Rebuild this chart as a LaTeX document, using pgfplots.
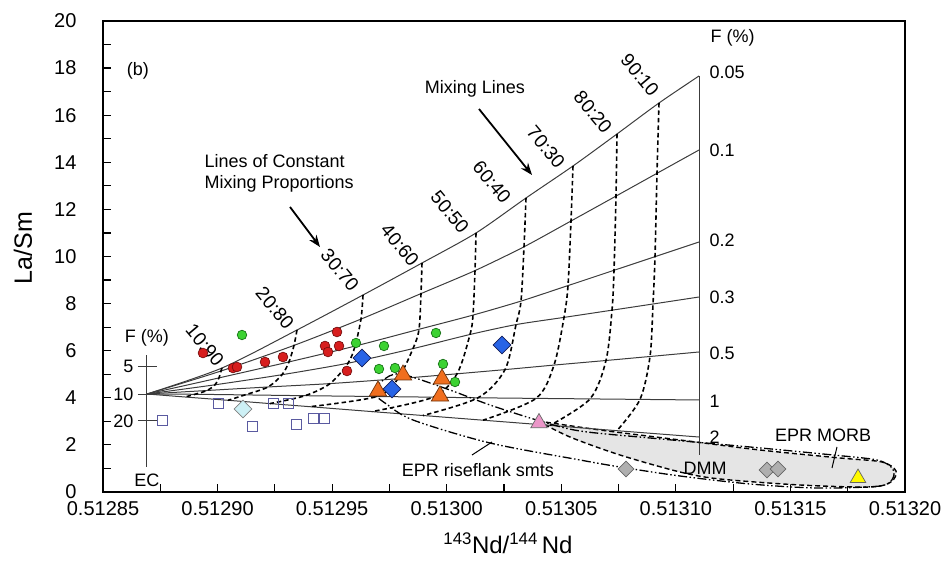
\documentclass[border=0pt]{standalone}
\usepackage{pgfplots}
\pgfplotsset{compat=1.18}
\usepackage{fontspec}
\setmainfont{Liberation Sans}
\usetikzlibrary{arrows.meta}
\definecolor{redpt}{RGB}{215,30,30}
\definecolor{reddk}{RGB}{110,10,10}
\definecolor{greenpt}{RGB}{60,210,50}
\definecolor{greendk}{RGB}{10,100,10}
\definecolor{bluept}{RGB}{40,100,230}
\definecolor{bluedk}{RGB}{20,30,90}
\definecolor{orangept}{RGB}{240,110,30}
\definecolor{orangedk}{RGB}{110,50,10}
\definecolor{pinkpt}{RGB}{235,150,200}
\definecolor{cyanpt}{RGB}{205,240,245}
\definecolor{sqedge}{RGB}{90,90,160}
\definecolor{graypt}{RGB}{175,175,175}
\definecolor{yellowpt}{RGB}{255,250,0}
\definecolor{linegray}{RGB}{60,60,60}
\newcommand{\ann}{\fontsize{18}{21}\selectfont}
\newcommand{\rat}{\fontsize{19}{22}\selectfont}
\begin{document}
\begin{tikzpicture}
\path[use as bounding box] (-103pt,-69pt) rectangle (842pt,492pt);
\begin{axis}[
 at={(0pt,0pt)}, anchor=south west,
 width=802pt, height=471pt, scale only axis,
 xmin=85, xmax=120, ymin=0, ymax=20,
 xtick={85,90,...,120},
 xticklabels={0.51285,0.51290,0.51295,0.51300,0.51305,0.51310,0.51315,0.51320},
 ytick={0,2,...,20},
 minor x tick num=1, minor y tick num=1,
 xtick pos=bottom, ytick pos=left,
 tick align=inside,
 major tick length=8pt, minor tick length=8pt,
 tick style={black, line width=1.2pt},
 axis line style={line width=1.6pt},
 /pgf/number format/assume math mode=true,
 ticklabel style={font=\fontsize{20}{24}\selectfont},
 xticklabel style={yshift=-6pt},
 yticklabel style={xshift=-23pt},
 xlabel={\textsuperscript{143}Nd/\textsuperscript{144}\,Nd},
 ylabel={La/Sm},
 xlabel style={at={(axis description cs:0.505,0)}, anchor=center, yshift=-51pt, font=\fontsize{24}{28}\selectfont},
 ylabel style={at={(axis description cs:-0.0998,0.518)}, anchor=center, font=\fontsize{25}{30}\selectfont},
 clip=false,
]
% EPR MORB envelope (filled)
\addplot[fill=black!10, draw=black, line width=1.4pt, dash pattern=on 5pt off 3pt, smooth, tension=0.5] coordinates {
(103.984,3.015)(106.690,2.633)(110.181,2.208)(113.672,1.783)(117.163,1.444)(118.996,1.274)(119.607,0.892)(119.389,0.425)(118.473,0.212)(115.418,0.297)(111.926,0.552)(110.181,0.849)(107.562,1.571)(105.380,2.335)(103.984,3.015)};
% F lines (solid)
\pgfplotsset{fline/.style={linegray, line width=1pt, smooth, tension=0.45}}
\addplot[fline] coordinates {(86.920,4.161)(90.193,5.265)(93.466,6.879)(96.347,8.365)(98.921,9.724)(101.278,10.998)(103.460,12.484)(105.511,13.843)(107.431,15.202)(109.264,16.518)(111.010,17.665)};
\addplot[fline] coordinates {(86.920,4.161)(90.150,5.138)(93.335,6.225)(96.259,7.342)(98.878,8.425)(101.234,9.401)(103.373,10.412)(105.424,11.507)(107.388,12.565)(109.177,13.533)(111.010,14.522)};
\addplot[fline] coordinates {(86.920,4.161)(90.062,4.845)(93.117,5.524)(95.998,6.195)(98.791,6.909)(101.147,7.512)(103.242,8.106)(105.293,8.764)(107.301,9.414)(109.090,9.992)(111.010,10.616)};
\addplot[fline] coordinates {(86.920,4.161)(89.888,4.552)(92.812,4.981)(95.692,5.469)(98.529,6.089)(101.016,6.688)(103.024,7.108)(105.119,7.414)(107.213,7.720)(109.003,7.983)(111.010,8.280)};
\addplot[fline] coordinates {(86.920,4.161)(89.539,4.310)(92.201,4.459)(94.907,4.603)(97.874,4.811)(100.449,5.019)(102.544,5.197)(104.682,5.389)(106.951,5.584)(108.872,5.754)(111.010,5.945)};
\addplot[fline] coordinates {(86.920,4.161)(89.015,4.149)(91.197,4.123)(93.815,4.089)(96.958,4.055)(99.402,4.026)(101.365,4.000)(103.897,3.975)(106.253,3.953)(108.435,3.932)(111.010,3.907)};
\addplot[fline] coordinates {(86.920,4.161)(88.579,4.034)(90.455,3.894)(92.288,3.754)(94.034,3.622)(96.739,3.414)(98.965,3.248)(101.584,3.049)(104.508,2.828)(107.431,2.603)(111.010,2.335)};
% DMM and EC axes
\addplot[linegray, line width=1pt] coordinates {(111.010,17.665)(111.010,1.571)};
\addplot[linegray, line width=1pt] coordinates {(86.920,5.817)(86.920,1.062)};
\addplot[linegray, line width=1pt] coordinates {(86.527,5.350)(87.356,5.350)};
\addplot[linegray, line width=1pt] coordinates {(86.527,4.161)(87.356,4.161)};
\addplot[linegray, line width=1pt] coordinates {(86.527,3.015)(87.356,3.015)};
% mixing proportion curves (dashed)
\pgfplotsset{mline/.style={black, line width=1.6pt, dash pattern=on 4.5pt off 3pt, smooth, tension=0.5}}
\addplot[mline] coordinates {(90.193,5.265)(90.150,5.138)(90.062,4.845)(89.888,4.552)(89.539,4.310)(89.015,4.149)(88.579,4.034)};
\addplot[mline] coordinates {(93.466,6.879)(93.335,6.225)(93.117,5.524)(92.812,4.981)(92.201,4.459)(91.197,4.123)(90.455,3.894)};
\addplot[mline] coordinates {(96.347,8.365)(96.259,7.342)(95.998,6.195)(95.692,5.469)(94.907,4.603)(93.815,4.089)(92.288,3.754)};
\addplot[mline] coordinates {(98.921,9.724)(98.878,8.425)(98.791,6.909)(98.529,6.089)(97.874,4.811)(96.958,4.055)(94.034,3.622)};
\addplot[mline] coordinates {(101.278,10.998)(101.234,9.401)(101.147,7.512)(101.016,6.688)(100.449,5.019)(99.402,4.026)(96.739,3.414)};
\addplot[mline] coordinates {(103.460,12.484)(103.373,10.412)(103.242,8.106)(103.024,7.108)(102.544,5.197)(101.365,4.000)(98.965,3.248)};
\addplot[mline] coordinates {(105.511,13.843)(105.424,11.507)(105.293,8.764)(105.119,7.414)(104.682,5.389)(103.897,3.975)(101.584,3.049)};
\addplot[mline] coordinates {(107.431,15.202)(107.388,12.565)(107.301,9.414)(107.213,7.720)(106.951,5.584)(106.253,3.953)(104.508,2.828)};
\addplot[mline] coordinates {(109.264,16.518)(109.177,13.533)(109.090,9.992)(109.003,7.983)(108.872,5.754)(108.435,3.932)(107.431,2.603)};
% EPR riseflank envelope
\addplot[black, line width=1.3pt, dash pattern=on 9pt off 2.5pt on 1.5pt off 2.5pt on 1.5pt off 2.5pt, smooth, tension=0.5] coordinates {
(96.739,4.204)(97.176,4.713)(97.961,5.011)(100.013,4.374)(101.889,3.694)(104.071,3.015)(105.817,2.590)(108.872,2.293)(113.236,1.911)(116.858,1.571)(118.778,1.359)(119.433,1.019)(119.476,0.594)(118.909,0.255)(116.160,0.170)(113.236,0.340)(110.181,0.679)(107.562,1.062)(105.817,1.359)(101.889,2.081)(98.529,3.057)(97.307,3.779)(96.739,4.204)};
% pointer lines
\addplot[black, line width=1pt] coordinates {(101.104,1.571)(101.976,2.123)};
\addplot[black, line width=1pt] coordinates {(117.032,1.911)(116.814,1.019)};
% data
\addplot[only marks, mark=square, mark size=5pt, mark options={draw=sqedge, fill=white, line width=1pt}] coordinates {
(87.618,3.057)(90.019,3.737)(91.503,2.760)(92.419,3.737)(93.117,3.737)(93.466,2.887)(94.165,3.100)(94.688,3.100)};
\addplot[only marks, mark=*, mark size=4.9pt, mark options={fill=redpt, draw=reddk, line width=0.6pt}] coordinates {
(89.364,5.902)(90.673,5.265)(90.848,5.308)(92.070,5.520)(92.855,5.732)(94.688,6.200)(94.819,5.945)(95.212,6.794)(95.299,6.200)(95.648,5.138)};
\addplot[only marks, mark=*, mark size=4.8pt, mark options={fill=greenpt, draw=greendk, line width=0.6pt}] coordinates {
(91.066,6.667)(96.041,6.327)(97.263,6.200)(97.045,5.223)(97.743,5.265)(99.532,6.752)(99.838,5.435)(100.362,4.671)};
\addplot[only marks, mark=square*, mark size=6.3pt, mark options={rotate=45, fill=bluept, draw=bluedk, line width=0.7pt}] coordinates {
(96.303,5.690)(97.612,4.374)(102.413,6.242)};
\addplot[only marks, mark=triangle*, mark size=10pt, mark options={fill=orangept, draw=orangedk, line width=0.7pt}] coordinates {
(97.001,4.289)(98.092,4.968)(99.794,4.798)(99.707,4.076)};
\addplot[only marks, mark=triangle*, mark size=9.5pt, mark options={fill=pinkpt, draw=black!60, line width=0.7pt}] coordinates {(104.027,2.930)};
\addplot[only marks, mark=square*, mark size=6.3pt, mark options={rotate=45, fill=cyanpt, draw=black!50, line width=0.7pt}] coordinates {(91.110,3.524)};
\addplot[only marks, mark=square*, mark size=5.6pt, mark options={rotate=45, fill=graypt, draw=black!60, line width=0.7pt}] coordinates {
(107.824,0.977)(113.978,0.934)(114.458,0.977)};
\addplot[only marks, mark=triangle*, mark size=9pt, mark options={fill=yellowpt, draw=black!60, line width=0.7pt}] coordinates {(117.949,0.594)};
% annotations
\node[font=\ann] at (axis cs:86.527,17.877) {(b)};
\node[font=\ann, align=left, anchor=west] at (axis cs:89.277,13.546) {Lines of Constant\\Mixing Proportions};
\node[font=\ann] at (axis cs:101.234,17.113) {Mixing Lines};
\draw[-{Stealth[length=12pt,width=9pt]}, line width=1.8pt] (axis cs:93.161,12.102) -- (axis cs:94.470,10.403);
\draw[-{Stealth[length=12pt,width=9pt]}, line width=1.8pt] (axis cs:101.409,16.263) -- (axis cs:103.722,13.461);
\node[font=\rat, rotate=-50, inner sep=0pt] at (axis cs:108.435,17.707) {90:10};
\node[font=\rat, rotate=-50, inner sep=0pt] at (axis cs:106.384,16.136) {80:20};
\node[font=\rat, rotate=-50, inner sep=0pt] at (axis cs:104.333,14.650) {70:30};
\node[font=\rat, rotate=-50, inner sep=0pt] at (axis cs:101.976,13.164) {60:40};
\node[font=\rat, rotate=-50, inner sep=0pt] at (axis cs:100.143,11.890) {50:50};
\node[font=\rat, rotate=-50, inner sep=0pt] at (axis cs:97.961,10.488) {40:60};
\node[font=\rat, rotate=-50, inner sep=0pt] at (axis cs:95.343,9.427) {30:70};
\node[font=\rat, rotate=-50, inner sep=0pt] at (axis cs:92.506,7.813) {20:80};
\node[font=\rat, rotate=-50, inner sep=0pt] at (axis cs:89.451,6.242) {10:90};
\node[font=\ann, anchor=west] at (axis cs:111.36,19.278) {F (\%)};
\node[font=\ann, anchor=west] at (axis cs:111.316,17.834) {0.05};
\node[font=\ann, anchor=west] at (axis cs:111.316,14.522) {0.1};
\node[font=\ann, anchor=west] at (axis cs:111.316,10.701) {0.2};
\node[font=\ann, anchor=west] at (axis cs:111.316,8.280) {0.3};
\node[font=\ann, anchor=west] at (axis cs:111.316,5.902) {0.5};
\node[font=\ann, anchor=west] at (axis cs:111.316,3.864) {1};
\node[font=\ann, anchor=west] at (axis cs:111.316,2.335) {2};
\node[font=\ann] at (axis cs:86.920,6.539) {F (\%)};
\node[font=\ann, anchor=east] at (axis cs:86.484,5.350) {5};
\node[font=\ann, anchor=east] at (axis cs:86.484,4.161) {10};
\node[font=\ann, anchor=east] at (axis cs:86.484,3.015) {20};
\node[font=\ann] at (axis cs:86.920,0.510) {EC};
\node[font=\ann] at (axis cs:111.272,1.02) {DMM};
\node[font=\ann] at (axis cs:101.365,0.934) {EPR riseflank smts};
\node[font=\ann] at (axis cs:116.422,2.420) {EPR MORB};
\end{axis}
\end{tikzpicture}
\end{document}
